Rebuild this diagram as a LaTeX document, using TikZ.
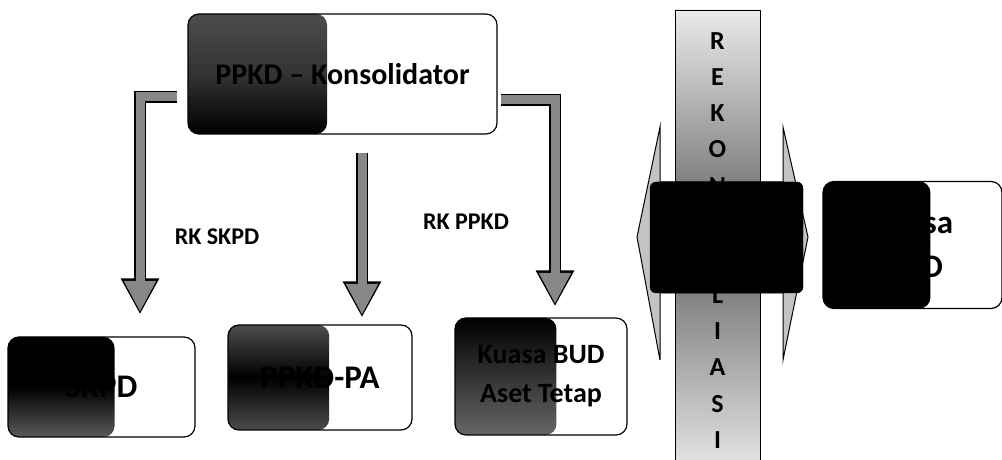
\documentclass[tikz,border=0pt]{standalone}
\usepackage{fontspec}
\setmainfont{Carlito}
\usepackage{xcolor}
\usepackage{tikz}
\usetikzlibrary{arrows.meta,positioning,calc}
\definecolor{halftone}{RGB}{135,135,135}
\definecolor{headgray}{RGB}{195,195,195}
\tikzset{
  rkbox/.style={draw=black, line width=1.2pt, rounded corners=11pt, align=center,
    inner sep=0pt, font=\bfseries\fontsize{33}{44}\selectfont},
  leftshade/.style 2 args={path picture={\shade[#2] (path picture bounding box.south west)
    rectangle ($(path picture bounding box.north west)!#1!(path picture bounding box.north east)$);}},
  fatflow/.style={line width=12pt, draw=black, -{Triangle[length=36pt,width=36pt]},
    postaction={draw=halftone, line width=9pt, shorten >=2.5pt, -{Triangle[length=31pt,width=30pt]}}},
  flowlabel/.style={font=\bfseries\fontsize{24}{24}\selectfont},
  rekonbar/.style={draw=black, line width=0.8pt, minimum width=85pt, minimum height=450pt,
    inner sep=0pt, top color=black!8, bottom color=black!12, middle color=black!62},
  barletter/.style={font=\bfseries\fontsize{26}{26}\selectfont, inner sep=0pt},
  twinarrow/.style={draw=black, line width=1pt, fill=headgray, line join=miter},
  hubbox/.style={fill=black, draw=black, rounded corners=6pt,
    minimum width=153pt, minimum height=111pt}
}

\begin{document}
\begin{tikzpicture}[x=1pt, y=1pt]
\useasboundingbox (0,0) rectangle (1002,460);

\node[rkbox, leftshade={0.45}{top color=black!70, bottom color=black, middle color=black!80},
  minimum width=309pt, minimum height=120pt,
  font=\bfseries\fontsize{30}{36}\selectfont] (ppkd) at (342.5,386) {PPKD -- Konsolidator};
\node[rkbox, leftshade={0.57}{top color=black, bottom color=black!65, middle color=black},
  minimum width=187pt, minimum height=100pt] (skpd) at (101.5,73) {SKPD};
\node[rkbox, leftshade={0.55}{top color=black!70, bottom color=black!70, middle color=black},
  minimum width=184pt, minimum height=105pt] (ppkdpa) at (320,82.5) {PPKD-PA};
\node[rkbox, leftshade={0.59}{top color=black, bottom color=black!60},
  minimum width=172pt, minimum height=117pt,
  font=\bfseries\fontsize{28}{39}\selectfont] (aset) at (541,83.5) {Kuasa BUD\\Aset Tetap};

\node[flowlabel] (lskpd) at (217,223) {RK SKPD};
\node[flowlabel] (lppkd) at (466,238) {RK PPKD};

\draw[fatflow] ([xshift=-10pt,yshift=-23pt]ppkd.west) -| ([xshift=38.5pt,yshift=22pt]skpd.north);
\draw[fatflow] ([xshift=19.5pt,yshift=-18pt]ppkd.south) -- ([xshift=42pt,yshift=7pt]ppkdpa.north);
\draw[fatflow] ([xshift=3pt,yshift=-26pt]ppkd.east) -| ([xshift=14pt,yshift=11pt]aset.north);

% rekonsiliasi bar
\node[rekonbar] (rekon) at (717.5,225) {};
\foreach \ch [count=\i] in {R,E,K,O,N,S,I,L,I,A,S,I}
  \node[barletter] (rk\i) at ([yshift={-31pt-36.3pt*(\i-1)}]rekon.north) {\ch};
\draw[twinarrow] (637,223) -- (660,333) -- (660,278) -- (783,278) -- (783,333) -- (808,223)
  -- (783,100) -- (783,167) -- (660,167) -- (660,100) -- cycle;
\node[hubbox] (hub) at (726.5,222.5) {};

\node[rkbox, leftshade={0.6}{top color=black, bottom color=black},
  minimum width=179pt, minimum height=127pt] (bud) at (912.5,215) {Kuasa\\BUD};
\end{tikzpicture}
\end{document}
